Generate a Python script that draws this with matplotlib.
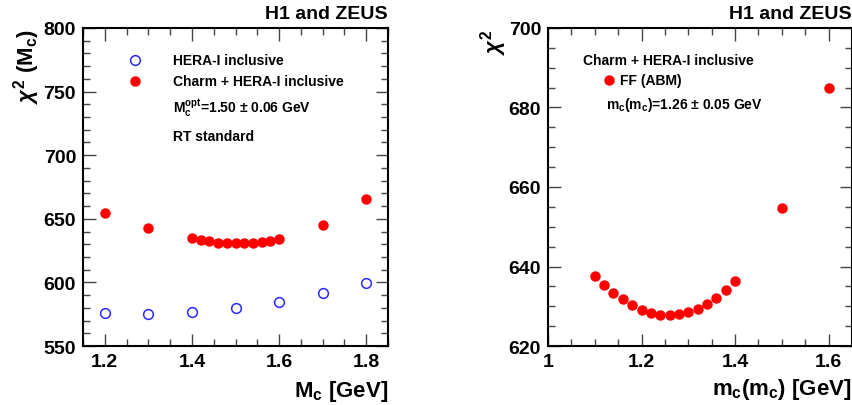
import numpy as np
import matplotlib
matplotlib.use("Agg")
import matplotlib.pyplot as plt
from matplotlib.ticker import MultipleLocator, FixedLocator

plt.rcParams['font.family'] = ['Liberation Sans', 'DejaVu Sans']
plt.rcParams['font.weight'] = 'bold'
plt.rcParams['mathtext.fontset'] = 'custom'
plt.rcParams['mathtext.rm'] = 'Liberation Sans:bold'
plt.rcParams['mathtext.it'] = 'Liberation Sans:bold:italic'
plt.rcParams['mathtext.bf'] = 'Liberation Sans:bold'
plt.rcParams['mathtext.sf'] = 'Liberation Sans:bold'

# Left panel: chi2 vs pole mass M_c (RT standard)
mc_incl = [1.2, 1.3, 1.4, 1.5, 1.6, 1.7, 1.8]
chi2_incl = [576.3, 575.5, 576.8, 579.9, 584.9, 591.5, 599.6]

mc_charm = [1.2, 1.3, 1.4, 1.42, 1.44, 1.46, 1.48, 1.50, 1.52, 1.54, 1.56, 1.58, 1.60, 1.7, 1.8]
chi2_charm = [654.5, 642.4, 634.6, 633.5, 632.2, 631.1, 630.9, 630.6, 630.6, 631.1, 631.7,
              632.7, 633.8, 644.8, 665.8]

# Right panel: chi2 vs running mass m_c(m_c) (FF ABM)
mcrun = [1.10, 1.12, 1.14, 1.16, 1.18, 1.20, 1.22, 1.24, 1.26, 1.28, 1.30, 1.32, 1.34,
         1.36, 1.38, 1.40, 1.5, 1.6]
chi2_abm = [637.5, 635.3, 633.4, 631.8, 630.3, 629.1, 628.2, 627.9, 627.8, 628.1, 628.5,
            629.4, 630.6, 632.1, 634.0, 636.4, 654.7, 685.0]

fig = plt.figure(figsize=(8.53, 4.06), dpi=100)
ax1 = fig.add_axes([0.0973, 0.1453, 0.3576, 0.7833])
ax2 = fig.add_axes([0.6424, 0.1453, 0.3564, 0.7833])


def style(ax):
    for s in ax.spines.values():
        s.set_linewidth(1.5)
    ax.tick_params(which='both', direction='in', top=True, right=True,
                   labelsize=14, width=1.0, color='#444444', pad=5)
    ax.tick_params(which='major', length=9)
    ax.tick_params(which='minor', length=5)
    for lab in ax.get_xticklabels() + ax.get_yticklabels():
        lab.set_fontweight('bold')


# left
ax1.plot(mc_incl, chi2_incl, 'o', ms=7, mfc='none', mec='#2a2aff', mew=1.1)
ax1.plot(mc_charm, chi2_charm, 'o', ms=6.5, color='#ff0000', mec='#ff0000')
ax1.set_xlim(1.15, 1.85)
ax1.set_ylim(550, 800)
ax1.xaxis.set_major_locator(MultipleLocator(0.2))
ax1.xaxis.set_minor_locator(MultipleLocator(0.05))
ax1.yaxis.set_major_locator(MultipleLocator(50))
ax1.yaxis.set_minor_locator(MultipleLocator(10))
ax1.xaxis.set_major_formatter(plt.FuncFormatter(lambda v, p: f"{v:.1f}"))
style(ax1)

ax1.text(1.0, -0.157, r"M$_{\mathregular{c}}$ [GeV]", transform=ax1.transAxes,
         ha='right', va='baseline', fontsize=16, fontweight='bold')
ax1.text(-0.184, 1.0, r"$\chi^{\mathregular{2}}$ (M$_{\mathregular{c}}$)", transform=ax1.transAxes,
         ha='center', va='top', rotation=90, fontsize=16, fontweight='bold')
ax1.text(1.0, 1.045, "H1 and ZEUS", transform=ax1.transAxes,
         ha='right', va='center', fontsize=14, fontweight='bold')

ax1.plot([0.17], [0.9], 'o', ms=7, mfc='none', mec='#2a2aff', mew=1.1,
         transform=ax1.transAxes, clip_on=False)
ax1.plot([0.17], [0.833], 'o', ms=6.5, color='#ff0000', transform=ax1.transAxes)
ax1.text(0.295, 0.9, "HERA-I inclusive", transform=ax1.transAxes,
         ha='left', va='center', fontsize=10, fontweight='bold')
ax1.text(0.295, 0.833, "Charm + HERA-I inclusive", transform=ax1.transAxes,
         ha='left', va='center', fontsize=10, fontweight='bold')
ax1.text(0.295, 0.75, r"M$_{\mathregular{c}}^{\mathregular{opt}}$=1.50 $\pm$ 0.06 GeV",
         transform=ax1.transAxes, ha='left', va='center', fontsize=10, fontweight='bold')
ax1.text(0.295, 0.66, "RT standard", transform=ax1.transAxes,
         ha='left', va='center', fontsize=10, fontweight='bold')

# right
ax2.plot(mcrun, chi2_abm, 'o', ms=6.5, color='#ff0000', mec='#ff0000')
ax2.set_xlim(1.0, 1.65)
ax2.set_ylim(620, 700)
ax2.xaxis.set_major_locator(FixedLocator([1.0, 1.2, 1.4, 1.6]))
ax2.xaxis.set_minor_locator(MultipleLocator(0.05))
ax2.yaxis.set_major_locator(MultipleLocator(20))
ax2.yaxis.set_minor_locator(MultipleLocator(5))
ax2.xaxis.set_major_formatter(plt.FuncFormatter(lambda v, p: "1" if abs(v - 1) < 1e-9 else f"{v:.1f}"))
style(ax2)

ax2.text(1.0, -0.152, r"m$_{\mathregular{c}}$(m$_{\mathregular{c}}$) [GeV]", transform=ax2.transAxes,
         ha='right', va='baseline', fontsize=16, fontweight='bold')
ax2.text(-0.18, 1.0, r"$\chi^{\mathregular{2}}$", transform=ax2.transAxes,
         ha='center', va='top', rotation=90, fontsize=16, fontweight='bold')
ax2.text(1.0, 1.045, "H1 and ZEUS", transform=ax2.transAxes,
         ha='right', va='center', fontsize=14, fontweight='bold')

ax2.text(0.115, 0.9, "Charm + HERA-I inclusive", transform=ax2.transAxes,
         ha='left', va='center', fontsize=10, fontweight='bold')
ax2.plot([0.2], [0.835], 'o', ms=6.5, color='#ff0000', transform=ax2.transAxes)
ax2.text(0.237, 0.835, "FF (ABM)", transform=ax2.transAxes,
         ha='left', va='center', fontsize=10, fontweight='bold')
ax2.text(0.19, 0.76, r"m$_{\mathregular{c}}$(m$_{\mathregular{c}}$)=1.26 $\pm$ 0.05 GeV",
         transform=ax2.transAxes, ha='left', va='center', fontsize=10, fontweight='bold')

fig.savefig("out.png", dpi=100)
